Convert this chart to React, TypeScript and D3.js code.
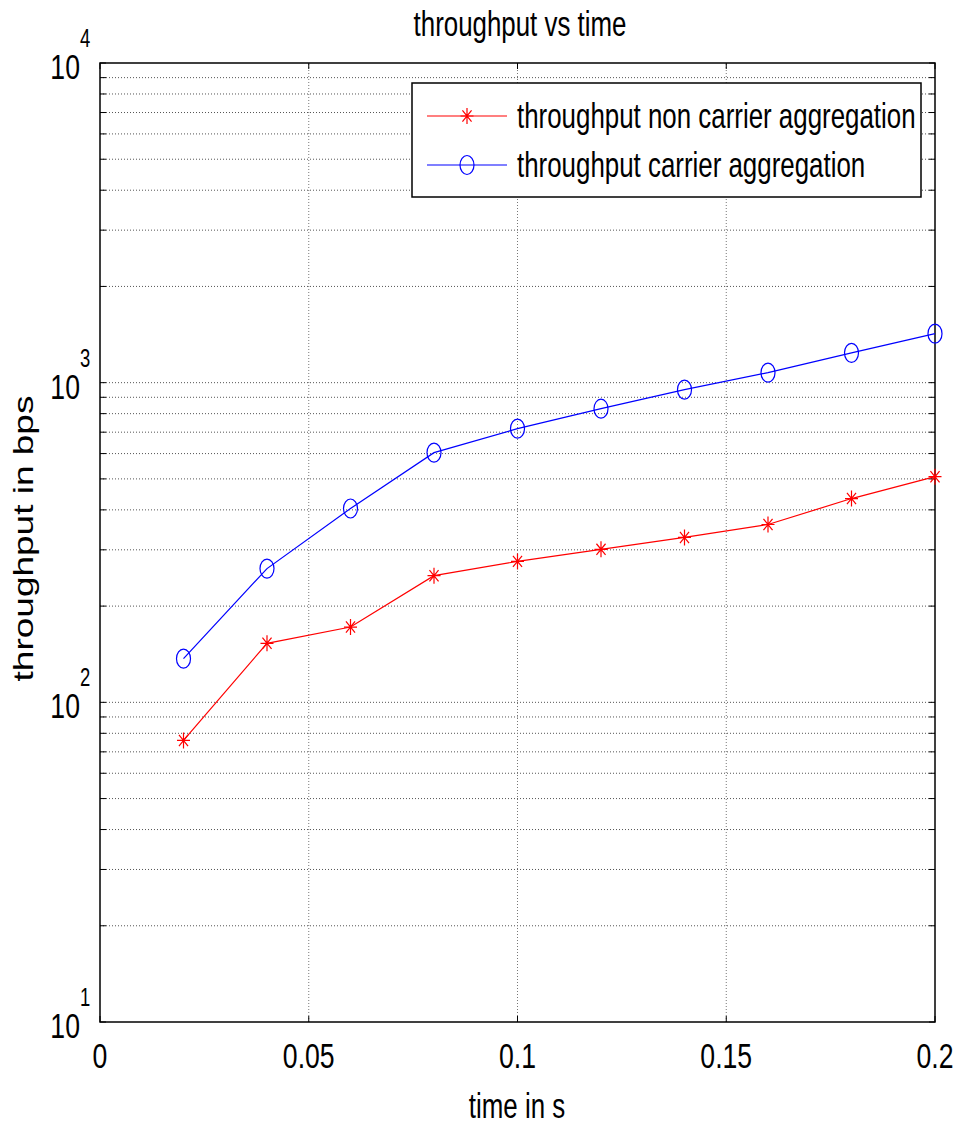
import * as d3 from 'd3';
import React from 'react';

// values
const time = [0.02, 0.04, 0.06, 0.08, 0.1, 0.12, 0.14, 0.16, 0.18, 0.2];
const nonCarrier = [76, 153, 172, 249, 276, 301, 328, 360, 434, 508];
const carrier = [137, 262, 404, 604, 718, 829, 951, 1075, 1240, 1423];
const xTicks = [0, 0.05, 0.1, 0.15, 0.2];
const xTickLabels = ['0', '0.05', '0.1', '0.15', '0.2'];
const legendLabels = ['throughput non carrier aggregation', 'throughput carrier aggregation'];

const W = 958;
const H = 1126;
const margin = { top: 63, right: 23, bottom: 104, left: 100 };
const SX = 0.74; // the original figure is squeezed horizontally
const FONT = '"Liberation Sans", Arial, sans-serif';

const T = (props: any) => {
    const { x, y, size, anchor, children } = props;
    return (
        <text transform={`translate(${x},${y}) scale(${SX},1)`} fontSize={size}
            textAnchor={anchor || 'start'} fontFamily={FONT} fill="#000">{children}</text>
    );
};

const Star = ({ cx, cy }: any) => {
    const rx = 6.5, ry = 8;
    const d = `M${cx - rx},${cy}H${cx + rx}M${cx},${cy - ry}V${cy + ry}` +
        `M${cx - rx * 0.7},${cy - ry * 0.7}L${cx + rx * 0.7},${cy + ry * 0.7}` +
        `M${cx - rx * 0.7},${cy + ry * 0.7}L${cx + rx * 0.7},${cy - ry * 0.7}`;
    return <path d={d} stroke="#ff0000" strokeWidth={1.2} fill="none" />;
};

const Ring = ({ cx, cy }: any) => (
    <ellipse cx={cx} cy={cy} rx={7} ry={9.5} stroke="#0000ff" strokeWidth={1.2} fill="none" />
);

const App = () => {
    const x = d3.scaleLinear().domain([0, 0.2]).range([margin.left, W - margin.right]);
    const y = d3.scaleLog().domain([10, 10000]).range([H - margin.bottom, margin.top]);
    const x0 = x.range()[0], x1 = x.range()[1];
    const y0 = y.range()[0], y1 = y.range()[1];

    const yTicks = y.ticks();
    const decades = yTicks.filter(v => Math.abs(Math.log10(v) - Math.round(Math.log10(v))) < 1e-9);

    const line = d3.line<number>().x((d, i) => x(time[i])).y(d => y(d));
    const tick = 6;

    return (
        <svg width={W} height={H} style={{ position: 'absolute', left: 0, top: 0, background: '#fff' }}>
            <rect x={0} y={0} width={W} height={H} fill="#fff" />

            {/* grid */}
            {yTicks.filter(v => v > 10 && v < 10000).map(v => (
                <line key={'gy' + v} x1={x0} x2={x1} y1={y(v)} y2={y(v)}
                    stroke="#555" strokeWidth={1} strokeDasharray="1,2" />
            ))}
            {xTicks.slice(1, -1).map(v => (
                <line key={'gx' + v} x1={x(v)} x2={x(v)} y1={y0} y2={y1}
                    stroke="#777" strokeWidth={1} strokeDasharray="1,2" />
            ))}

            {/* ticks */}
            {yTicks.map(v => (
                <g key={'ty' + v}>
                    <line x1={x0} x2={x0 + tick} y1={y(v)} y2={y(v)} stroke="#000" />
                    <line x1={x1} x2={x1 - tick} y1={y(v)} y2={y(v)} stroke="#000" />
                </g>
            ))}
            {xTicks.map(v => (
                <g key={'tx' + v}>
                    <line x1={x(v)} x2={x(v)} y1={y0} y2={y0 - tick} stroke="#000" />
                    <line x1={x(v)} x2={x(v)} y1={y1} y2={y1 + tick} stroke="#000" />
                </g>
            ))}

            {/* axes box */}
            <rect x={x0} y={y1} width={x1 - x0} height={y0 - y1} fill="none" stroke="#000" strokeWidth={1.5} />

            {/* tick labels */}
            {xTicks.map((v, i) => (
                <T key={'lx' + v} x={x(v)} y={1068} size={36} anchor="middle">{xTickLabels[i]}</T>
            ))}
            {decades.map(v => (
                <g key={'ly' + v}>
                    <T x={80} y={y(v) + 16} size={36} anchor="end">10</T>
                    <T x={80} y={y(v) - 16} size={25}>{String(Math.round(Math.log10(v)))}</T>
                </g>
            ))}

            {/* series */}
            <path d={line(nonCarrier) || ''} fill="none" stroke="#ff0000" strokeWidth={1.2} />
            <path d={line(carrier) || ''} fill="none" stroke="#0000ff" strokeWidth={1.2} />
            {nonCarrier.map((v, i) => <Star key={'s' + i} cx={x(time[i])} cy={y(v)} />)}
            {carrier.map((v, i) => <Ring key={'c' + i} cx={x(time[i])} cy={y(v)} />)}

            {/* legend */}
            <rect x={412} y={83} width={509} height={114} fill="#fff" stroke="#000" strokeWidth={1.5} />
            <line x1={427} x2={507} y1={116} y2={116} stroke="#ff0000" strokeWidth={1.2} />
            <Star cx={467} cy={116} />
            <T x={517} y={128} size={35}>{legendLabels[0]}</T>
            <line x1={427} x2={507} y1={165} y2={165} stroke="#0000ff" strokeWidth={1.2} />
            <Ring cx={467} cy={165} />
            <T x={517} y={177} size={35}>{legendLabels[1]}</T>

            {/* titles */}
            <T x={520} y={36} size={35} anchor="middle">throughput vs time</T>
            <T x={517} y={1118} size={35} anchor="middle">time in s</T>
            <text transform={`translate(33,${(y0 + y1) / 2 - 4}) rotate(-90) scale(1,${SX})`}
                fontSize={37} textAnchor="middle" fontFamily={FONT} fill="#000">throughput in bps</text>
        </svg>
    );
};

export default App;
